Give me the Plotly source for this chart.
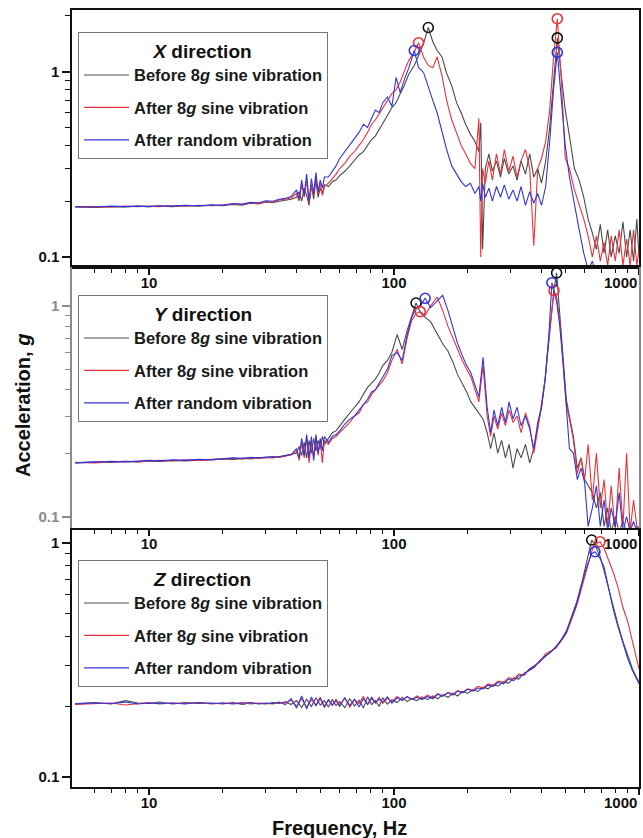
import plotly.graph_objects as go

# ---------------- data ----------------
SERIES_NAMES = ["Before 8<i>g</i> sine vibration",
                "After 8<i>g</i> sine vibration",
                "After random vibration"]
PANEL_TITLES = ["<i>X</i> direction", "<i>Y</i> direction", "<i>Z</i> direction"]

X_TICK_VALS = [10, 100, 1000]
X_TICK_TEXT = ["10", "100", "1000"]
X_MINOR_VALS = [6, 7, 8, 9, 20, 30, 40, 50, 60, 70, 80, 90,
                200, 300, 400, 500, 600, 700, 800, 900]
Y_TICK_VALS = [0.1, 1]
Y_TICK_TEXT = ["0.1", "1"]
Y_MINOR_VALS = [0.2, 0.3, 0.4, 0.5, 0.6, 0.7, 0.8, 0.9, 2]

# ----- X direction -----
FREQ_X = [
    5, 6, 7, 8, 9, 10, 11, 12.5, 14, 16,
    18, 20, 22, 24, 26, 28, 30, 32, 34, 36,
    38, 40, 41, 42, 43, 44, 45, 46, 47, 48,
    49, 50, 51, 52, 54, 56, 58, 60, 63, 66,
    69, 72, 75, 78, 81, 84, 87, 90, 94, 98,
    102, 106, 110, 115, 121, 126, 132, 138, 144, 150,
    157, 164, 172, 180, 188, 196, 205, 214, 222, 226,
    230, 236, 244, 252, 262, 272, 282, 294, 306, 318,
    330, 344, 358, 372, 386, 400, 416, 432, 448, 464,
    482, 500, 520, 545, 570, 595, 620, 645, 670, 695,
    720, 745, 770, 800, 830, 860, 890, 920, 950, 980,
    1000]
X_BEFORE = [
    0.186, 0.185, 0.187, 0.186, 0.188, 0.187, 0.188, 0.187, 0.189, 0.188,
    0.190, 0.189, 0.192, 0.190, 0.195, 0.193, 0.198, 0.196, 0.200, 0.203,
    0.205, 0.210, 0.225, 0.200, 0.235, 0.215, 0.190, 0.245, 0.205, 0.260,
    0.210, 0.235, 0.220, 0.245, 0.240, 0.255, 0.260, 0.275, 0.290, 0.310,
    0.330, 0.355, 0.370, 0.400, 0.430, 0.450, 0.490, 0.530, 0.580, 0.640,
    0.680, 0.760, 0.840, 0.970, 1.080, 1.220, 1.420, 1.730, 1.450, 1.300,
    1.200, 0.980, 0.840, 0.680, 0.600, 0.520, 0.460, 0.420, 0.370, 0.530,
    0.110, 0.300, 0.360, 0.290, 0.330, 0.270, 0.340, 0.280, 0.310, 0.260,
    0.330, 0.280, 0.360, 0.270, 0.300, 0.250, 0.330, 0.500, 0.900, 1.520,
    0.950, 0.620, 0.450, 0.300, 0.260, 0.210, 0.160, 0.135, 0.110, 0.150,
    0.105, 0.140, 0.100, 0.130, 0.105, 0.155, 0.100, 0.140, 0.095, 0.160,
    0.100]
X_AFTER_SINE = [
    0.186, 0.187, 0.186, 0.188, 0.187, 0.188, 0.187, 0.189, 0.188, 0.190,
    0.189, 0.191, 0.193, 0.192, 0.196, 0.194, 0.199, 0.198, 0.203, 0.205,
    0.208, 0.220, 0.200, 0.245, 0.210, 0.260, 0.195, 0.240, 0.215, 0.270,
    0.220, 0.250, 0.215, 0.240, 0.250, 0.265, 0.280, 0.300, 0.320, 0.350,
    0.370, 0.400, 0.430, 0.470, 0.520, 0.550, 0.590, 0.640, 0.700, 0.760,
    0.800, 0.880, 1.000, 1.150, 1.280, 1.430, 1.200, 1.080, 1.050, 1.200,
    0.950, 0.700, 0.550, 0.470, 0.400, 0.360, 0.320, 0.300, 0.560, 0.100,
    0.300, 0.250, 0.330, 0.260, 0.360, 0.280, 0.380, 0.290, 0.350, 0.270,
    0.330, 0.380, 0.300, 0.115, 0.300, 0.340, 0.420, 0.620, 1.200, 1.930,
    0.900, 0.340, 0.300, 0.230, 0.190, 0.160, 0.130, 0.100, 0.130, 0.095,
    0.120, 0.090, 0.130, 0.095, 0.140, 0.090, 0.125, 0.090, 0.140, 0.090,
    0.110]
X_AFTER_RANDOM = [
    0.187, 0.186, 0.188, 0.187, 0.188, 0.187, 0.189, 0.188, 0.190, 0.189,
    0.191, 0.190, 0.194, 0.193, 0.197, 0.196, 0.201, 0.200, 0.205, 0.207,
    0.212, 0.230, 0.205, 0.260, 0.215, 0.280, 0.200, 0.265, 0.220, 0.285,
    0.225, 0.260, 0.235, 0.270, 0.270, 0.290, 0.310, 0.340, 0.370, 0.400,
    0.430, 0.470, 0.520, 0.500, 0.560, 0.620, 0.600, 0.680, 0.730, 0.650,
    0.930, 0.770, 0.900, 1.050, 1.300, 1.050, 0.990, 0.820, 0.700, 0.600,
    0.470, 0.380, 0.310, 0.280, 0.255, 0.240, 0.250, 0.220, 0.240, 0.200,
    0.250, 0.210, 0.235, 0.200, 0.240, 0.210, 0.245, 0.205, 0.230, 0.200,
    0.240, 0.190, 0.225, 0.195, 0.220, 0.190, 0.240, 0.420, 0.800, 1.270,
    0.700, 0.400, 0.270, 0.190, 0.140, 0.105, 0.085, 0.095, 0.080, 0.090,
    0.080, 0.085, 0.080, 0.080, 0.085, 0.080, 0.080, 0.080, 0.080, 0.080,
    0.080]
X_PEAK_F = [[138, 464], [126, 464], [121, 464]]
X_PEAK_V = [[1.73, 1.52], [1.43, 1.93], [1.30, 1.27]]

# ----- Y direction -----
FREQ_Y = [
    5, 6, 7, 8, 9, 10, 11, 12.5, 14, 16,
    18, 20, 22, 24, 26, 28, 30, 32, 34, 36,
    38, 40, 41, 42, 43, 44, 45, 46, 47, 48,
    49, 50, 51, 52, 54, 56, 58, 60, 63, 66,
    69, 72, 75, 78, 81, 84, 87, 90, 94, 98,
    103, 108, 113, 118, 123, 128, 134, 141, 150, 158,
    166, 174, 182, 190, 198, 206, 214, 222, 231, 240,
    248, 256, 265, 275, 285, 295, 306, 318, 330, 344,
    358, 372, 386, 400, 414, 428, 441, 450, 461, 475,
    490, 505, 520, 540, 560, 580, 600, 620, 645, 670,
    695, 720, 745, 770, 800, 830, 860, 890, 920, 950,
    980, 1000]
Y_BEFORE = [
    0.180, 0.182, 0.181, 0.183, 0.182, 0.184, 0.183, 0.185, 0.184, 0.186,
    0.187, 0.188, 0.187, 0.189, 0.188, 0.190, 0.191, 0.190, 0.193, 0.195,
    0.198, 0.200, 0.215, 0.195, 0.225, 0.190, 0.230, 0.200, 0.235, 0.205,
    0.230, 0.210, 0.240, 0.220, 0.235, 0.250, 0.255, 0.270, 0.290, 0.310,
    0.330, 0.350, 0.380, 0.410, 0.430, 0.450, 0.480, 0.520, 0.550, 0.600,
    0.730, 0.620, 0.760, 0.900, 1.030, 0.930, 0.880, 0.840, 0.740, 0.660,
    0.610, 0.540, 0.470, 0.430, 0.390, 0.350, 0.330, 0.310, 0.290, 0.250,
    0.210, 0.250, 0.200, 0.230, 0.190, 0.220, 0.170, 0.210, 0.190, 0.220,
    0.180, 0.210, 0.260, 0.330, 0.450, 0.650, 0.950, 1.200, 1.430, 0.900,
    0.550, 0.360, 0.300, 0.240, 0.170, 0.190, 0.150, 0.140, 0.130, 0.110,
    0.130, 0.090, 0.110, 0.085, 0.100, 0.085, 0.095, 0.085, 0.090, 0.085,
    0.090, 0.085]
Y_AFTER_SINE = [
    0.181, 0.180, 0.182, 0.183, 0.182, 0.184, 0.185, 0.184, 0.186, 0.185,
    0.187, 0.188, 0.189, 0.188, 0.190, 0.189, 0.191, 0.192, 0.191, 0.194,
    0.196, 0.205, 0.185, 0.225, 0.190, 0.235, 0.180, 0.225, 0.190, 0.240,
    0.195, 0.230, 0.180, 0.230, 0.220, 0.235, 0.240, 0.250, 0.265, 0.280,
    0.300, 0.310, 0.340, 0.350, 0.380, 0.400, 0.420, 0.440, 0.480, 0.550,
    0.620, 0.530, 0.700, 0.850, 0.920, 0.937, 0.900, 1.000, 1.100, 0.950,
    0.800, 0.700, 0.620, 0.550, 0.500, 0.460, 0.400, 0.350, 0.520, 0.300,
    0.240, 0.300, 0.260, 0.310, 0.270, 0.320, 0.280, 0.300, 0.250, 0.310,
    0.270, 0.200, 0.260, 0.340, 0.450, 0.700, 1.000, 1.180, 1.100, 0.850,
    0.520, 0.340, 0.290, 0.230, 0.160, 0.190, 0.150, 0.220, 0.120, 0.200,
    0.110, 0.150, 0.090, 0.140, 0.085, 0.170, 0.090, 0.200, 0.085, 0.120,
    0.090, 0.085]
Y_AFTER_RANDOM = [
    0.180, 0.181, 0.183, 0.182, 0.183, 0.185, 0.184, 0.186, 0.185, 0.187,
    0.186, 0.188, 0.190, 0.189, 0.191, 0.190, 0.192, 0.193, 0.192, 0.195,
    0.197, 0.210, 0.190, 0.235, 0.195, 0.245, 0.190, 0.240, 0.185, 0.245,
    0.200, 0.235, 0.205, 0.240, 0.225, 0.240, 0.245, 0.255, 0.275, 0.290,
    0.300, 0.320, 0.340, 0.360, 0.390, 0.400, 0.430, 0.460, 0.500, 0.580,
    0.600, 0.550, 0.720, 0.880, 0.980, 1.000, 1.084, 0.980, 1.050, 1.120,
    0.950, 0.780, 0.660, 0.580, 0.520, 0.480, 0.420, 0.370, 0.570, 0.330,
    0.250, 0.320, 0.270, 0.330, 0.280, 0.350, 0.290, 0.330, 0.270, 0.300,
    0.260, 0.210, 0.280, 0.330, 0.450, 0.700, 1.285, 1.150, 1.050, 0.800,
    0.540, 0.330, 0.210, 0.200, 0.150, 0.170, 0.145, 0.090, 0.110, 0.140,
    0.090, 0.120, 0.085, 0.110, 0.090, 0.130, 0.085, 0.100, 0.085, 0.095,
    0.085, 0.090]
Y_PEAK_F = [[123, 461], [128, 450], [134, 441]]
Y_PEAK_V = [[1.03, 1.43], [0.937, 1.18], [1.084, 1.285]]

# ----- Z direction -----
FREQ_Z = [
    5, 6, 7, 8, 9, 10, 11, 12.5, 14, 16,
    18, 20, 22, 24, 26, 28, 30, 32, 34, 36,
    38, 40, 42, 44, 46, 48, 50, 52, 54, 56,
    58, 60, 63, 66, 69, 72, 75, 78, 81, 84,
    87, 90, 94, 98, 103, 108, 113, 118, 124, 130,
    137, 144, 151, 158, 166, 174, 182, 190, 200, 210,
    220, 231, 242, 254, 266, 280, 294, 308, 323, 340,
    357, 375, 394, 414, 435, 457, 480, 505, 530, 557,
    585, 614, 641, 661, 693, 720, 750, 785, 820, 860,
    900, 940, 980, 1000]
Z_BEFORE = [
    0.206, 0.208, 0.205, 0.212, 0.207, 0.206, 0.209, 0.205, 0.208, 0.206,
    0.207, 0.205, 0.208, 0.204, 0.207, 0.206, 0.205, 0.208, 0.206, 0.210,
    0.204, 0.212, 0.198, 0.215, 0.200, 0.218, 0.203, 0.212, 0.199, 0.214,
    0.202, 0.210, 0.198, 0.216, 0.201, 0.213, 0.197, 0.220, 0.204, 0.212,
    0.200, 0.218, 0.205, 0.214, 0.208, 0.219, 0.210, 0.216, 0.212, 0.220,
    0.214, 0.222, 0.216, 0.225, 0.219, 0.228, 0.222, 0.232, 0.228, 0.236,
    0.232, 0.242, 0.238, 0.248, 0.245, 0.255, 0.252, 0.265, 0.262, 0.278,
    0.285, 0.295, 0.315, 0.330, 0.340, 0.360, 0.385, 0.420, 0.480, 0.560,
    0.680, 0.850, 1.030, 0.980, 0.880, 0.760, 0.640, 0.530, 0.450, 0.380,
    0.330, 0.290, 0.265, 0.255]
Z_AFTER_SINE = [
    0.204, 0.206, 0.207, 0.203, 0.206, 0.208, 0.205, 0.207, 0.206, 0.208,
    0.205, 0.207, 0.206, 0.208, 0.205, 0.207, 0.206, 0.205, 0.208, 0.207,
    0.213, 0.201, 0.216, 0.199, 0.214, 0.203, 0.219, 0.200, 0.213, 0.202,
    0.215, 0.204, 0.217, 0.199, 0.214, 0.206, 0.221, 0.203, 0.216, 0.207,
    0.219, 0.206, 0.217, 0.210, 0.221, 0.213, 0.220, 0.214, 0.222, 0.216,
    0.224, 0.218, 0.227, 0.222, 0.230, 0.226, 0.234, 0.230, 0.238, 0.235,
    0.244, 0.240, 0.250, 0.246, 0.257, 0.254, 0.266, 0.262, 0.276, 0.272,
    0.290, 0.300, 0.310, 0.335, 0.345, 0.355, 0.380, 0.410, 0.470, 0.540,
    0.650, 0.780, 0.920, 0.990, 1.013, 0.950, 0.850, 0.750, 0.650, 0.530,
    0.460, 0.380, 0.320, 0.290]
Z_AFTER_RANDOM = [
    0.205, 0.207, 0.206, 0.209, 0.205, 0.207, 0.206, 0.207, 0.205, 0.208,
    0.206, 0.207, 0.205, 0.206, 0.208, 0.205, 0.207, 0.206, 0.209, 0.204,
    0.216, 0.197, 0.222, 0.195, 0.220, 0.201, 0.217, 0.198, 0.215, 0.203,
    0.212, 0.200, 0.218, 0.202, 0.215, 0.199, 0.216, 0.205, 0.219, 0.208,
    0.215, 0.209, 0.220, 0.207, 0.218, 0.212, 0.221, 0.215, 0.219, 0.214,
    0.221, 0.216, 0.226, 0.221, 0.229, 0.224, 0.233, 0.229, 0.237, 0.233,
    0.240, 0.238, 0.247, 0.244, 0.254, 0.250, 0.262, 0.258, 0.270, 0.275,
    0.288, 0.298, 0.312, 0.328, 0.342, 0.358, 0.383, 0.415, 0.475, 0.550,
    0.670, 0.800, 0.900, 0.918, 0.860, 0.790, 0.650, 0.520, 0.440, 0.370,
    0.320, 0.285, 0.260, 0.250]
Z_PEAK_F = [[641], [693], [661]]
Z_PEAK_V = [[1.03], [1.013], [0.918]]

# ---------------- styling / layout ----------------
W, H = 643, 838
FONT = "Liberation Sans, Arial, sans-serif"
LINE_COLORS = ["#4a4a4a", "#e8333a", "#3434dc"]
MARK_COLORS = ["#111111", "#e8333a", "#3434dc"]
TICK_FONT = dict(family=FONT, size=15, color="#111111", weight="bold")

PLOT_LEFT, PLOT_RIGHT = 72, 639
X_RANGE = [0.6857, 3.0]
# (top px, bottom px, y-range in log10, axis colour, y label colour, legend top px)
PANELS = [
    (9.5, 266.7, [-1.0524, 0.3351], "#111111", "#111111", 32),
    (266.7, 527.7, [-1.0521, 0.1848], "#8a8a8a", "#8a8a8a", 295),
    (530.0, 786.7, [-1.0415, 0.0556], "#111111", "#111111", 560),
]

panel_data = [
    (FREQ_X, [X_BEFORE, X_AFTER_SINE, X_AFTER_RANDOM], X_PEAK_F, X_PEAK_V),
    (FREQ_Y, [Y_BEFORE, Y_AFTER_SINE, Y_AFTER_RANDOM], Y_PEAK_F, Y_PEAK_V),
    (FREQ_Z, [Z_BEFORE, Z_AFTER_SINE, Z_AFTER_RANDOM], Z_PEAK_F, Z_PEAK_V),
]

fig = go.Figure()
layout = dict(
    width=W, height=H, margin=dict(l=0, r=0, t=0, b=0, autoexpand=False),
    paper_bgcolor="white", plot_bgcolor="rgba(0,0,0,0)",
    font=dict(family=FONT, color="#111111"),
    showlegend=True,
)
annotations = []

# the last decade label sits flush with the right frame, as in the source figure
tick_text = [t if v < 1000 else "" for v, t in zip(X_TICK_VALS, X_TICK_TEXT)]

for p, ((top, bot, yr, axcol, ylabcol, legtop), (freq, series, pkf, pkv)) in enumerate(zip(PANELS, panel_data)):
    sfx = "" if p == 0 else str(p + 1)
    xname, yname = "x" + sfx, "y" + sfx
    legname = "legend" + sfx
    for s, vals in enumerate(series):
        fig.add_trace(go.Scatter(
            x=freq, y=vals, mode="lines", name=SERIES_NAMES[s],
            line=dict(color=LINE_COLORS[s], width=1.1),
            xaxis=xname, yaxis=yname, legend=legname,
            legendgroup=f"p{p}s{s}", showlegend=True, hoverinfo="skip"))
    for s in range(3):
        fig.add_trace(go.Scatter(
            x=pkf[s], y=pkv[s], mode="markers",
            marker=dict(symbol="circle-open", size=10, color=MARK_COLORS[s],
                        line=dict(width=1.6, color=MARK_COLORS[s])),
            xaxis=xname, yaxis=yname, showlegend=False, cliponaxis=False,
            hoverinfo="skip"))

    layout["xaxis" + sfx] = dict(
        type="log", range=X_RANGE, domain=[PLOT_LEFT / W, PLOT_RIGHT / W],
        anchor=yname, tickmode="array", tickvals=X_TICK_VALS, ticktext=tick_text,
        automargin=False, ticklabelstandoff=-5,
        ticks="outside", ticklen=6, tickwidth=1.5, tickcolor="#111111",
        showline=True, linecolor="#111111", linewidth=2, mirror=True,
        showgrid=False, zeroline=False,
        tickfont=TICK_FONT,
        minor=dict(tickvals=X_MINOR_VALS, ticks="outside", ticklen=4,
                   tickwidth=1, tickcolor="#111111", showgrid=False),
    )
    annotations.append(dict(
        text=X_TICK_TEXT[-1], xref="paper", yref="paper",
        x=PLOT_RIGHT / W, y=1 - (bot + 16) / H, xanchor="right", yanchor="middle",
        showarrow=False, font=TICK_FONT))
    layout["yaxis" + sfx] = dict(
        type="log", range=yr, domain=[1 - bot / H, 1 - top / H],
        anchor=xname, tickmode="array", tickvals=Y_TICK_VALS, ticktext=Y_TICK_TEXT,
        automargin=False,
        ticks="outside", ticklen=8, tickwidth=1.5, tickcolor=axcol,
        showline=True, linecolor=axcol, linewidth=1.5, mirror=True,
        showgrid=False, zeroline=False,
        tickfont=dict(family=FONT, size=15, color=ylabcol, weight="bold"),
        minor=dict(tickvals=Y_MINOR_VALS, ticks="outside", ticklen=5,
                   tickwidth=1, tickcolor=axcol, showgrid=False),
    )
    layout[legname] = dict(
        x=78 / W, y=1 - legtop / H, xanchor="left", yanchor="top",
        bgcolor="white", bordercolor="#777777", borderwidth=1,
        font=dict(family=FONT, size=16.5, color="#1a1a1a", weight="bold"),
        title=dict(text=PANEL_TITLES[p], side="top center",
                   font=dict(family=FONT, size=19, color="#111111", weight="bold")),
        tracegroupgap=8, itemwidth=45, traceorder="grouped",
    )

annotations += [
    dict(text="Acceleration, <i>g</i>", xref="paper", yref="paper",
         x=23 / W, y=1 - 406 / H, textangle=-90, showarrow=False,
         font=dict(family=FONT, size=20, color="#111111", weight="bold"),
         xanchor="center", yanchor="middle"),
    dict(text="Frequency, Hz", xref="paper", yref="paper",
         x=340 / W, y=1 - 828 / H, showarrow=False,
         font=dict(family=FONT, size=20, color="#111111", weight="bold"),
         xanchor="center", yanchor="middle"),
]
layout["annotations"] = annotations

fig.update_layout(**layout)
fig.write_html("out.html")
